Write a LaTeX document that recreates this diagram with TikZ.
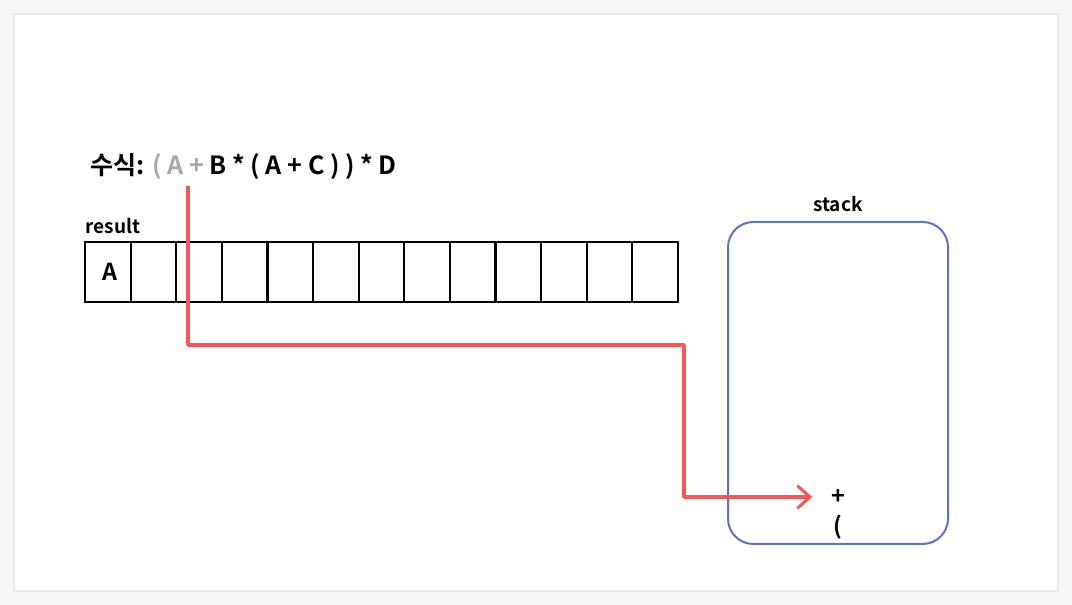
\documentclass[tikz,border=0pt]{standalone}
\usepackage{fontspec}
\setmainfont{Noto Sans CJK KR}[BoldFont={Noto Sans CJK KR Bold}]
\usepackage{tikz}
\usetikzlibrary{arrows.meta,positioning}
\usepackage{xcolor}
\definecolor{pagegray}{RGB}{246,246,246}
\definecolor{cardedge}{RGB}{232,232,232}
\definecolor{stackblue}{RGB}{96,112,206}
\definecolor{pushred}{RGB}{250,84,84}
\definecolor{donegray}{RGB}{168,168,168}
\tikzset{
  cellbox/.style={draw=black,line width=1.6pt,minimum width=34.2pt,minimum height=45pt,inner sep=0pt},
  stackbox/.style={draw=stackblue,line width=1.5pt,rounded corners=19pt,minimum width=165pt,minimum height=241.5pt},
  caption/.style={font=\bfseries\fontsize{14.3}{16}\selectfont,inner sep=1pt},
  token/.style={font=\bfseries\fontsize{17.5}{19}\selectfont,inner sep=0pt},
  pushflow/.style={-{Straight Barb[length=9.5pt,width=17pt,line width=2.2pt]},line width=2.8pt,draw=pushred,line join=round}
}
\begin{document}
\begin{tikzpicture}[x=0.75pt,y=-0.75pt]
  \useasboundingbox[fill=pagegray] (0,0) rectangle (1072,605);
  \fill[cardedge] (13,13) rectangle (1059,592);
  \fill[white] (15,15) rectangle (1057,590);

  % expression being converted
  \node[anchor=west,font=\bfseries\fontsize{18.8}{21}\selectfont,inner sep=0pt] (expr) at (90,167)
    {수식: \textcolor{donegray}{( A +} B * ( A + C ) ) * D};

  % result array
  \node[caption,anchor=south west] (reslabel) at (84,235) {result};
  \foreach \i in {0,...,12}
    \node[cellbox] (c\i) at ({85+45.615*\i+22.81},272) {};
  \node[token] (a0) at ([xshift=1.5pt]c0.center) {A};

  % operator stack
  \node[stackbox] (stack) at (838,383) {};
  \node[caption,above=6pt of stack.north] (stacklabel) {stack};
  \node[token] (plus) at (838,497) {+};
  \node[token] (lparen) at (838,527) {(};

  \coordinate (start) at (188,186);
  \coordinate (turn) at (684,345);
  \draw[pushflow,shorten >=14pt] (start) |- (turn) |- (plus.west);
\end{tikzpicture}
\end{document}
